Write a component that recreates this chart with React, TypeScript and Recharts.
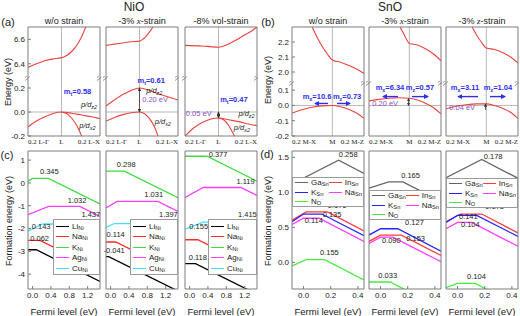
import React from 'react';
import { LineChart, Line, XAxis, YAxis, ReferenceLine, ReferenceDot, Legend } from 'recharts';

const SANS = '"Liberation Sans", Arial, sans-serif';
const SERIF = '"Liberation Serif", "Times New Roman", serif';
const FRAME = '#7c7c7c';
const GUIDE = '#b8b8b8';
const BAND = '#e8443f';
const BLUE = '#2e2ee8';
const PURPLE = '#8c50c8';
const INK = '#222';

type XY = number[][];

// ---------- NiO band edges (k, eV) ----------
const NIO_K_TICKS = [-0.2, 0, 0.23];
const NIO_K_LABELS = ['0.2 L-Γ', 'L', '0.2 L-X'];
const NIO_UP_TICKS = [6.4, 6.6];
const NIO_LO_TICKS = [-0.2, 0, 0.2];

const nioFreeCB = [[-0.2, 6.37], [-0.15, 6.4], [-0.1, 6.425], [-0.05, 6.44], [0, 6.45], [0.02, 6.46], [0.04, 6.475], [0.06, 6.5], [0.08, 6.53], [0.1, 6.57], [0.12, 6.62], [0.145, 6.7], [0.16, 6.75]];
const nioFreeVB1 = [[-0.2, -0.125], [-0.15, -0.075], [-0.1, -0.04], [-0.05, -0.012], [0, 0], [0.06, -0.01], [0.12, -0.025], [0.18, -0.04], [0.23, -0.055]];
const nioFreeVB2 = [[0, 0], [0.03, -0.013], [0.06, -0.05], [0.09, -0.11], [0.12, -0.2], [0.13, -0.24]];

const nioXCB = [[-0.2, 6.55], [-0.15, 6.56], [-0.1, 6.57], [-0.05, 6.58], [0, 6.585], [0.02, 6.6], [0.04, 6.625], [0.06, 6.66], [0.08, 6.7], [0.09, 6.73]];
const nioXVB1 = [[-0.2, 0.05], [-0.15, 0.1], [-0.1, 0.145], [-0.05, 0.18], [0, 0.2], [0.115, 0.15], [0.23, 0.1]];
const nioXVB2 = [[-0.2, -0.075], [-0.15, -0.045], [-0.1, -0.022], [-0.05, -0.006], [0, 0], [0.03, -0.015], [0.06, -0.055], [0.09, -0.125], [0.11, -0.2], [0.12, -0.24]];

const nioVolCB = [[-0.2, 6.55], [-0.1, 6.545], [-0.05, 6.54], [0, 6.535], [0.05, 6.555], [0.1, 6.59], [0.15, 6.63], [0.2, 6.67], [0.23, 6.7]];
const nioVolVB1 = [[-0.2, -0.2], [-0.15, -0.135], [-0.1, -0.09], [-0.05, -0.06], [0, -0.05], [0.06, -0.065], [0.12, -0.08], [0.18, -0.1], [0.23, -0.115]];
const nioVolVB2 = [[0, -0.05], [0.03, -0.065], [0.06, -0.11], [0.08, -0.16], [0.095, -0.2], [0.1, -0.22]];

// ---------- SnO band edges ----------
const SNO_K_TICKS = [-0.2, 0, 0.157];
const SNO_K_LABELS = ['0.2 M-X', 'M', '0.2 M-Z'];
const SNO_UP_TICKS = [2.0, 2.1, 2.2];
const SNO_LO_TICKS = [-0.2, -0.1, 0, 0.1];

const snoFreeCB = [[-0.11, 2.33], [-0.1, 2.3], [-0.075, 2.23], [-0.05, 2.17], [-0.025, 2.12], [0, 2.08], [0.04, 2.065], [0.08, 2.045], [0.12, 2.02], [0.157, 1.99]];
const snoFreeVB = [[-0.2, -0.05], [-0.15, -0.028], [-0.1, -0.012], [-0.05, -0.003], [0, 0], [0.04, -0.008], [0.08, -0.025], [0.12, -0.05], [0.157, -0.085]];
const snoXCB = [[-0.05, 2.32], [-0.045, 2.3], [-0.03, 2.26], [-0.015, 2.22], [0, 2.19], [0.04, 2.18], [0.08, 2.155], [0.12, 2.12], [0.157, 2.075]];
const snoXVB = [[-0.2, 0.03], [-0.15, 0.04], [-0.1, 0.047], [-0.05, 0.05], [0, 0.047], [0.04, 0.035], [0.08, 0.015], [0.12, -0.015], [0.157, -0.055]];
const snoZCB = [[-0.08, 2.33], [-0.07, 2.3], [-0.05, 2.25], [-0.025, 2.2], [0, 2.16], [0.04, 2.15], [0.08, 2.13], [0.12, 2.1], [0.157, 2.06]];
const snoZVB = [[-0.2, -0.022], [-0.15, -0.005], [-0.1, 0.005], [-0.05, 0.01], [0, 0.01], [0.04, 0], [0.08, -0.018], [0.12, -0.045], [0.157, -0.086]];

// ---------- NiO formation energies (Fermi level, eV) ----------
const C_X_TICKS = [0, 0.4, 0.8, 1.2];
const C_Y_TICKS = [-4, -3, -2, -1, 0, 1];
const c1Li = [[-0.1, -2.93], [0.08, -2.93], [1.47, -4.32]];
const c1Na = [[-0.1, -2.52], [0.16, -2.52], [1.47, -3.83]];
const c1K = [[-0.1, 0.07], [0, 0.2], [0.345, 0.2], [1.47, -0.925]];
const c1Ag = [[-0.1, -1.39], [0.35, -1.03], [1.032, -1.03], [1.47, -1.47]];
const c1Cu = [[-0.1, -2.12], [0.22, -1.8], [1.437, -1.8], [1.47, -1.83]];

const c2Li = [[-0.1, -3.23], [-0.041, -3.23], [1.47, -4.74]];
const c2Na = [[-0.1, -2.59], [0.114, -2.59], [1.47, -3.95]];
const c2K = [[-0.1, 0.52], [0.3, 0.52], [1.47, -0.65]];
const c2Ag = [[-0.1, -1.1], [0.14, -0.81], [1.031, -0.81], [1.47, -1.25]];
const c2Cu = [[-0.1, -1.95], [0.08, -1.78], [1.397, -1.78], [1.47, -1.85]];

const c3Li = [[-0.1, -3.54], [0.13, -3.54], [1.47, -4.88]];
const c3Na = [[-0.1, -2.49], [0.18, -2.49], [1.47, -3.78]];
const c3K = [[-0.1, 1.17], [0.377, 1.17], [1.47, 0.08]];
const c3Ag = [[-0.1, -0.64], [0.3, -0.2], [1.119, -0.2], [1.47, -0.55]];
const c3Cu = [[-0.1, -2.03], [0.3, -1.72], [1.415, -1.72], [1.47, -1.77]];

// ---------- SnO formation energies ----------
const D_X_TICKS = [0, 0.2, 0.4];
const D_Y_TICKS = [0, 0.5, 1.0, 1.5];
const d1Ga = [[-0.085, 1.12], [0.258, 1.46], [0.445, 1.27]];
const d1In = [[-0.085, 0.6], [0.02, 0.72], [0.176, 0.72], [0.445, 0.45]];
const d1K = [[-0.085, 0.58], [0, 0.69], [0.135, 0.69], [0.445, 0.38]];
const d1Na = [[-0.085, 0.54], [0, 0.63], [0.114, 0.63], [0.445, 0.3]];
const d1N = [[-0.085, -0.05], [0.02, 0.04], [0.155, 0.04], [0.445, -0.25]];

const d2Ga = [[-0.085, 1.06], [0.06, 1.15], [0.165, 1.15], [0.445, 0.87]];
const d2In = [[-0.085, 0.3], [0, 0.39], [0.153, 0.39], [0.445, 0.1]];
const d2K = [[-0.085, 0.39], [0, 0.48], [0.127, 0.48], [0.445, 0.16]];
const d2Na = [[-0.085, 0.27], [0, 0.36], [0.09, 0.36], [0.445, 0.01]];
const d2N = [[-0.085, -0.28], [0.07, -0.28], [0.445, -0.655]];

const d3Ga = [[-0.085, 1.21], [0.178, 1.47], [0.445, 1.2]];
const d3In = [[-0.085, 0.58], [0.02, 0.69], [0.178, 0.69], [0.445, 0.42]];
const d3K = [[-0.085, 0.57], [0, 0.67], [0.141, 0.67], [0.445, 0.37]];
const d3Na = [[-0.085, 0.48], [0, 0.57], [0.104, 0.57], [0.445, 0.23]];
const d3N = [[-0.085, -0.36], [0, -0.3], [0.13, -0.3], [0.445, -0.615]];

const C_NAMES = ['Li_{Ni}', 'Na_{Ni}', 'K_{Ni}', 'Ag_{Ni}', 'Cu_{Ni}'];
const C_COLORS = ['#000000', '#ff2a2a', '#3fdc3f', '#ff3cff', '#3ee0ff'];
const D_NAMES = ['Ga_{Sn}', 'In_{Sn}', 'K_{Sn}', 'Na_{Sn}', 'N_{O}'];
const D_COLORS = ['#666666', '#ff3b3b', '#2424ff', '#ff3cff', '#44ee44'];

// ---------- layout ----------
const L = 30;
const M0 = { top: 0, right: 0, bottom: 0, left: 0 };
const AX = { stroke: FRAME };
const TICK = { fontSize: 8, fill: INK, fontFamily: SANS };
const B_TOP = 27;
const B_BOT = 136;
const F_TOP = 151;
const F_BOT = 289;
const W = 72;

const pts = (a: XY) => a.map(([x, y]) => ({ x, y }));
const f1 = (v: number) => v.toFixed(1);
const f0 = (v: number) => String(v);

type Note = { x: number; y: number; t: string; kind: 'blue' | 'purple' | 'pd' | 'num' };
type Arrow = { x1: number; y1: number; x2: number; y2: number; kind: 'blue' | 'dark'; both?: boolean };

const svgParts = (text: string, size: number) =>
  text.split(/_\{([^}]*)\}/).map((s, i) =>
    i % 2 ? (
      <tspan key={i} fontSize={size * 0.72} dy={size * 0.3}>{s}</tspan>
    ) : (
      <tspan key={i} fontSize={size} dy={i ? -size * 0.3 : 0}>{s}</tspan>
    )
  );

const Sub = ({ text }: { text: string }) => (
  <span>
    {text.split(/_\{([^}]*)\}/).map((s, i) =>
      i % 2 ? <sub key={i} style={{ fontSize: '0.72em', lineHeight: 0, verticalAlign: '-0.25em' }}>{s}</sub> : <span key={i}>{s}</span>
    )}
  </span>
);

const noteShape = (n: Note) => (p: any) => {
  const size = 7.5;
  const fill = n.kind === 'blue' ? BLUE : n.kind === 'purple' ? PURPLE : INK;
  return (
    <text
      x={p.cx}
      y={p.cy}
      dy={size * 0.35}
      textAnchor="middle"
      fill={fill}
      fontFamily={SANS}
      fontStyle={n.kind === 'pd' ? 'italic' : undefined}
      fontWeight={n.kind === 'blue' ? 700 : undefined}
    >
      {svgParts(n.t, size)}
    </text>
  );
};

const breakShape = (p: any) => (
  <path d={`M${p.cx - 3},${p.cy + 1.5} l5,-4 M${p.cx - 3},${p.cy + 4.5} l5,-4`} stroke={FRAME} strokeWidth={0.8} fill="none" />
);

const arrowShape = (a: Arrow) => (p: any) => {
  const id = a.kind === 'blue' ? 'ahBlue' : 'ahDark';
  return (
    <line
      x1={p.x1}
      y1={p.y1}
      x2={p.x2}
      y2={p.y2}
      stroke={a.kind === 'blue' ? BLUE : '#333'}
      strokeWidth={a.kind === 'blue' ? 1.4 : 0.8}
      markerEnd={`url(#${id})`}
      markerStart={a.both ? `url(#${id})` : undefined}
    />
  );
};

const kTick = (ticks: number[], labels: string[]) => (p: any) => {
  const i = ticks.indexOf(p.payload.value);
  const anchor = i === 0 ? 'start' : i === ticks.length - 1 ? 'end' : 'middle';
  return (
    <text x={p.x} y={p.y} dy="0.75em" textAnchor={anchor} fontSize={7} fontFamily={SERIF} fill={INK}>
      {labels[i]}
    </text>
  );
};

interface BandCfg {
  left: number;
  brk: number;
  kTicks: number[];
  kLabels: string[];
  upDomain: [number, number];
  upTicks: number[];
  loDomain: [number, number];
  loTicks: number[];
  upper: XY[];
  lower: XY[];
  notes: Note[];
  arrows: Arrow[];
  showY: boolean;
}

const BandPanel = ({ c }: { c: BandCfg }) => {
  const kDomain: [number, number] = [c.kTicks[0], c.kTicks[c.kTicks.length - 1]];
  const yTick = c.showY ? TICK : false;
  const line = (d: XY, i: number) => (
    <Line key={i} data={pts(d)} dataKey="y" type="monotone" stroke={BAND} strokeWidth={1.1} dot={false} isAnimationActive={false} />
  );
  return (
    <>
      <div style={{ position: 'absolute', left: c.left - L, top: B_TOP - 1 }}>
        <LineChart width={L + W + 1} height={c.brk - B_TOP + 1} margin={M0}>
          <XAxis type="number" dataKey="x" domain={kDomain} allowDataOverflow orientation="top" height={1} tick={false} tickLine={false} axisLine={AX} />
          <YAxis type="number" domain={c.upDomain} allowDataOverflow ticks={c.upTicks} interval={0} width={L} tick={yTick} tickFormatter={f1} tickSize={-3} tickMargin={6} tickLine={AX} axisLine={AX} />
          <YAxis yAxisId="r" orientation="right" type="number" domain={c.upDomain} width={1} tick={false} tickLine={false} axisLine={AX} />
          <ReferenceLine x={0} stroke={GUIDE} />
          {c.upper.map(line)}
        </LineChart>
      </div>
      <div style={{ position: 'absolute', left: c.left - L, top: c.brk }}>
        <LineChart width={L + W + 1} height={B_BOT - c.brk + 14} margin={M0}>
          <XAxis type="number" dataKey="x" domain={kDomain} allowDataOverflow ticks={c.kTicks} interval={0} height={14} tick={kTick(c.kTicks, c.kLabels)} tickLine={false} tickSize={0} tickMargin={3} axisLine={AX} />
          <YAxis type="number" domain={c.loDomain} allowDataOverflow ticks={c.loTicks} interval={0} width={L} tick={yTick} tickFormatter={f1} tickSize={-3} tickMargin={6} tickLine={AX} axisLine={AX} />
          <YAxis yAxisId="r" orientation="right" type="number" domain={c.loDomain} width={1} tick={false} tickLine={false} axisLine={AX} />
          <ReferenceLine x={0} stroke={GUIDE} />
          <ReferenceLine y={0} stroke={GUIDE} />
          {c.lower.map(line)}
          {c.arrows.map((a, i) => (
            <ReferenceLine key={'a' + i} segment={[{ x: a.x1, y: a.y1 }, { x: a.x2, y: a.y2 }]} ifOverflow="visible" shape={arrowShape(a)} />
          ))}
          {c.notes.map((n, i) => (
            <ReferenceDot key={'n' + i} x={n.x} y={n.y} r={0} ifOverflow="visible" shape={noteShape(n)} />
          ))}
          <ReferenceDot x={kDomain[0]} y={c.loDomain[1]} r={0} ifOverflow="visible" shape={breakShape} />
          <ReferenceDot x={kDomain[1]} y={c.loDomain[1]} r={0} ifOverflow="visible" shape={breakShape} />
        </LineChart>
      </div>
    </>
  );
};

interface FormCfg {
  left: number;
  xDomain: [number, number];
  yDomain: [number, number];
  xTicks: number[];
  yTicks: number[];
  yFmt: (v: number) => string;
  names: string[];
  colors: string[];
  series: XY[];
  notes: Note[];
  legend: { x: number; y: number; w: number; h: number; cols: number };
  showY: boolean;
}

const legendContent = (cols: number, order: string[]) => (props: any) => {
  const items: any[] = [...(props.payload ?? [])].sort(
    (a, b) => order.indexOf(String(a.value)) - order.indexOf(String(b.value))
  );
  return (
    <div
      style={{
        boxSizing: 'border-box',
        width: '100%',
        height: '100%',
        background: '#fff',
        border: '1px solid #9a9a9a',
        display: 'grid',
        gridTemplateColumns: `repeat(${cols}, auto)`,
        alignContent: 'space-evenly',
        padding: '0 2px',
        fontFamily: SANS,
        fontSize: 8,
        color: INK,
      }}
    >
      {items.map((it) => (
        <div key={it.value} style={{ display: 'flex', alignItems: 'center', lineHeight: '9px' }}>
          <span style={{ width: 13, borderTop: `1.6px solid ${it.color}`, marginRight: 3, flex: 'none' }} />
          <Sub text={String(it.value)} />
        </div>
      ))}
    </div>
  );
};

const FormPanel = ({ c }: { c: FormCfg }) => {
  const ox = c.left - L;
  const oy = F_TOP - 1;
  const lg = c.legend;
  return (
    <div style={{ position: 'absolute', left: ox, top: oy }}>
      <LineChart width={L + W + 1} height={F_BOT - F_TOP + 1 + 16} margin={M0}>
        <XAxis type="number" dataKey="x" domain={c.xDomain} allowDataOverflow ticks={c.xTicks} interval={0} tickFormatter={f1} height={16} tick={TICK} tickSize={-3} tickMargin={6} tickLine={AX} axisLine={AX} />
        <XAxis xAxisId="t" orientation="top" type="number" domain={c.xDomain} height={1} tick={false} tickLine={false} axisLine={AX} />
        <YAxis type="number" domain={c.yDomain} allowDataOverflow ticks={c.yTicks} interval={0} width={L} tick={c.showY ? TICK : false} tickFormatter={c.yFmt} tickSize={-3} tickMargin={6} tickLine={AX} axisLine={AX} />
        <YAxis yAxisId="r" orientation="right" type="number" domain={c.yDomain} width={1} tick={false} tickLine={false} axisLine={AX} />
        {c.series.map((d, i) => (
          <Line key={i} name={c.names[i]} data={pts(d)} dataKey="y" type="linear" stroke={c.colors[i]} strokeWidth={1.3} dot={false} isAnimationActive={false} />
        ))}
        {c.notes.map((n, i) => (
          <ReferenceDot key={'n' + i} x={n.x} y={n.y} r={0} ifOverflow="visible" shape={noteShape(n)} />
        ))}
        <Legend
          layout="vertical"
          align="center"
          verticalAlign="middle"
          wrapperStyle={{ left: lg.x - ox, top: lg.y - oy, width: lg.w, height: lg.h }}
          content={legendContent(lg.cols, c.names)}
        />
      </LineChart>
    </div>
  );
};

const n = (x: number, y: number, t: string, kind: Note['kind']): Note => ({ x, y, t, kind });

const NIO_BASE = {
  brk: 76,
  kTicks: NIO_K_TICKS,
  kLabels: NIO_K_LABELS,
  upDomain: [6.3, 6.7] as [number, number],
  upTicks: NIO_UP_TICKS,
  loDomain: [-0.2, 0.3] as [number, number],
  loTicks: NIO_LO_TICKS,
};
const SNO_BASE = {
  brk: 81,
  kTicks: SNO_K_TICKS,
  kLabels: SNO_K_LABELS,
  upDomain: [1.94, 2.3] as [number, number],
  upTicks: SNO_UP_TICKS,
  loDomain: [-0.2, 0.16] as [number, number],
  loTicks: SNO_LO_TICKS,
};

const BAND_PANELS: BandCfg[] = [
  {
    ...NIO_BASE, left: 28, showY: true, upper: [nioFreeCB], lower: [nioFreeVB1, nioFreeVB2], arrows: [],
    notes: [n(0.096, 0.15, 'm_{t}=0.58', 'blue'), n(0.164, 0.045, 'p/d_{z2}', 'pd'), n(0.155, -0.13, 'p/d_{x2}', 'pd')],
  },
  {
    ...NIO_BASE, left: 106, showY: false, upper: [nioXCB], lower: [nioXVB1, nioXVB2],
    arrows: [{ x1: 0, y1: 0, x2: 0, y2: 0.2, kind: 'dark', both: true }],
    notes: [n(0.07, 0.245, 'm_{t}=0.61', 'blue'), n(0.088, 0.16, 'p/d_{z2}', 'pd'), n(0.093, 0.083, '0.20 eV', 'purple'), n(0.14, -0.1, 'p/d_{x2}', 'pd')],
  },
  {
    ...NIO_BASE, left: 185, showY: false, upper: [nioVolCB], lower: [nioVolVB1, nioVolVB2],
    arrows: [{ x1: 0, y1: 0, x2: 0, y2: -0.05, kind: 'dark', both: true }],
    notes: [n(-0.118, -0.035, '0.05 eV', 'purple'), n(0.092, 0.083, 'm_{t}=0.47', 'blue'), n(0.167, -0.035, 'p/d_{z2}', 'pd'), n(0.14, -0.15, 'p/d_{x2}', 'pd')],
  },
  {
    ...SNO_BASE, left: 292, showY: true, upper: [snoFreeCB], lower: [snoFreeVB],
    arrows: [
      { x1: -0.021, y1: 0.013, x2: -0.086, y2: 0.013, kind: 'blue' },
      { x1: 0.023, y1: 0.013, x2: 0.088, y2: 0.013, kind: 'blue' },
    ],
    notes: [n(-0.076, 0.045, 'm_{x}=10.6', 'blue'), n(0.073, 0.045, 'm_{z}=0.73', 'blue')],
  },
  {
    ...SNO_BASE, left: 369, showY: false, upper: [snoXCB], lower: [snoXVB],
    arrows: [
      { x1: -0.056, y1: 0.058, x2: -0.131, y2: 0.058, kind: 'blue' },
      { x1: 0.013, y1: 0.058, x2: 0.093, y2: 0.058, kind: 'blue' },
      { x1: -0.004, y1: 0, x2: -0.004, y2: 0.045, kind: 'dark', both: true },
    ],
    notes: [n(-0.096, 0.103, 'm_{x}=6.34', 'blue'), n(0.053, 0.103, 'm_{z}=0.57', 'blue'), n(-0.12, -0.006, '0.20 eV', 'purple')],
  },
  {
    ...SNO_BASE, left: 446, showY: false, upper: [snoZCB], lower: [snoZVB],
    arrows: [
      { x1: -0.041, y1: 0.058, x2: -0.14, y2: 0.058, kind: 'blue' },
      { x1: 0.018, y1: 0.058, x2: 0.093, y2: 0.058, kind: 'blue' },
      { x1: -0.004, y1: -0.03, x2: -0.004, y2: 0.01, kind: 'dark' },
    ],
    notes: [n(-0.106, 0.103, 'm_{x}=3.11', 'blue'), n(0.058, 0.103, 'm_{z}=1.04', 'blue'), n(-0.12, -0.032, '0.04 eV', 'purple')],
  },
];

const C_BASE = {
  xDomain: [-0.1, 1.47] as [number, number],
  yDomain: [-4.65, 1.4] as [number, number],
  xTicks: C_X_TICKS,
  yTicks: C_Y_TICKS,
  yFmt: f0,
  names: C_NAMES,
  colors: C_COLORS,
};
const D_BASE = {
  xDomain: [-0.085, 0.445] as [number, number],
  yDomain: [-0.38, 1.59] as [number, number],
  xTicks: D_X_TICKS,
  yTicks: D_Y_TICKS,
  yFmt: f1,
  names: D_NAMES,
  colors: D_COLORS,
};

const FORM_PANELS: FormCfg[] = [
  {
    ...C_BASE, left: 28, showY: true, series: [c1Li, c1Na, c1K, c1Ag, c1Cu],
    legend: { x: 53, y: 219, w: 47, h: 56, cols: 1 },
    notes: [n(0.364, 0.41, '0.345', 'num'), n(0.97, -0.86, '1.032', 'num'), n(1.27, -1.5, '1.437', 'num'), n(0.187, -2.03, '0.143', 'num'), n(0.154, -2.55, '0.062', 'num')],
  },
  {
    ...C_BASE, left: 106, showY: false, series: [c2Li, c2Na, c2K, c2Ag, c2Cu],
    legend: { x: 130, y: 219, w: 48, h: 56, cols: 1 },
    notes: [n(0.34, 0.72, '0.298', 'num'), n(0.94, -0.62, '1.031', 'num'), n(1.26, -1.5, '1.397', 'num'), n(0.11, -2.39, '0.114', 'num'), n(0.077, -3.06, '-0.041', 'num')],
  },
  {
    ...C_BASE, left: 185, showY: false, series: [c3Li, c3Na, c3K, c3Ag, c3Cu],
    legend: { x: 208, y: 219, w: 49, h: 56, cols: 1 },
    notes: [n(0.62, 1.12, '0.377', 'num'), n(1.22, -0.05, '1.119', 'num'), n(1.26, -1.5, '1.415', 'num'), n(0.2, -2.03, '0.155', 'num'), n(0.18, -3.36, '0.118', 'num')],
  },
  {
    ...D_BASE, left: 292, showY: true, series: [d1Ga, d1In, d1K, d1Na, d1N],
    legend: { x: 292, y: 177, w: 72, h: 30, cols: 2 },
    notes: [n(0.329, 1.5, '0.258', 'num'), n(0.247, 0.77, '0.176', 'num'), n(0.21, 0.65, '0.135', 'num'), n(0.075, 0.56, '0.114', 'num'), n(0.19, 0.1, '0.155', 'num')],
  },
  {
    ...D_BASE, left: 369, showY: false, series: [d2Ga, d2In, d2K, d2Na, d2N],
    legend: { x: 369, y: 190, w: 72, h: 30, cols: 2 },
    notes: [n(0.221, 1.21, '0.165', 'num'), n(0.25, 0.53, '0.127', 'num'), n(0.258, 0.31, '0.153', 'num'), n(0.079, 0.27, '0.090', 'num'), n(0.053, -0.22, '0.033', 'num')],
  },
  {
    ...D_BASE, left: 446, showY: false, series: [d3Ga, d3In, d3K, d3Na, d3N],
    legend: { x: 446, y: 178, w: 72, h: 30, cols: 2 },
    notes: [n(0.262, 1.48, '0.178', 'num'), n(0.273, 0.76, '0.178', 'num'), n(0.079, 0.62, '0.141', 'num'), n(0.094, 0.5, '0.104', 'num'), n(0.139, -0.24, '0.104', 'num')],
  },
];

const TITLES = ['w/o strain', '-3% x-strain', '-8% vol-strain', 'w/o strain', '-3% x-strain', '-3% z-strain'];

const Txt = ({ x, y, size = 9, children, rotate = false, family = SANS }: any) => (
  <div
    style={{
      position: 'absolute',
      left: x,
      top: y,
      transform: `translate(-50%, -50%)${rotate ? ' rotate(-90deg)' : ''}`,
      fontSize: size,
      fontFamily: family,
      whiteSpace: 'nowrap',
      lineHeight: 1,
      color: INK,
    }}
  >
    {children}
  </div>
);

const Title = ({ t }: { t: string }) => {
  const m = t.match(/^(-3% )([xz])(-strain)$/);
  if (!m) return <>{t}</>;
  return (
    <>
      {m[1]}
      <i style={{ fontFamily: SERIF }}>{m[2]}</i>
      {m[3]}
    </>
  );
};

export default function App() {
  return (
    <div style={{ position: 'absolute', left: 0, top: 0, width: 520, height: 316, background: '#fff', overflow: 'hidden' }}>
      <svg width={0} height={0} style={{ position: 'absolute' }}>
        <defs>
          <marker id="ahBlue" viewBox="0 0 6 6" refX="5" refY="3" markerWidth="5" markerHeight="5" orient="auto-start-reverse" markerUnits="userSpaceOnUse">
            <path d="M0,0 L6,3 L0,6 z" fill={BLUE} />
          </marker>
          <marker id="ahDark" viewBox="0 0 6 6" refX="5" refY="3" markerWidth="3.5" markerHeight="3.5" orient="auto-start-reverse" markerUnits="userSpaceOnUse">
            <path d="M0,0 L6,3 L0,6 z" fill="#333" />
          </marker>
        </defs>
      </svg>

      <Txt x={134} y={7} size={12}>NiO</Txt>
      <Txt x={390} y={7} size={12}>SnO</Txt>
      <Txt x={8} y={22} size={11}>(a)</Txt>
      <Txt x={268} y={22} size={11}>(b)</Txt>
      <Txt x={7} y={155} size={11}>(c)</Txt>
      <Txt x={267} y={154} size={11}>(d)</Txt>

      {BAND_PANELS.map((c, i) => (
        <Txt key={'t' + i} x={c.left + W / 2} y={21}>
          <Title t={TITLES[i]} />
        </Txt>
      ))}

      <Txt x={8} y={82} rotate>Energy (eV)</Txt>
      <Txt x={268} y={80} rotate>Energy (eV)</Txt>
      <Txt x={9} y={221} rotate>Formation energy (eV)</Txt>
      <Txt x={268} y={221} rotate>Formation energy (eV)</Txt>

      {BAND_PANELS.map((c, i) => (
        <BandPanel key={'b' + i} c={c} />
      ))}
      {FORM_PANELS.map((c, i) => (
        <FormPanel key={'f' + i} c={c} />
      ))}
      {FORM_PANELS.map((c, i) => (
        <Txt key={'x' + i} x={c.left + W / 2} y={312} size={9.5}>Fermi level (eV)</Txt>
      ))}
    </div>
  );
}
